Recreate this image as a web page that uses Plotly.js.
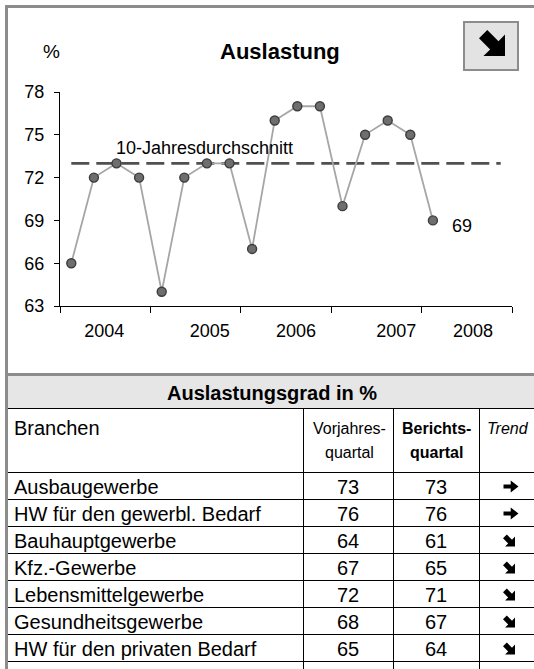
<!DOCTYPE html>
<html>
<head>
<meta charset="utf-8">
<script src="https://cdn.plot.ly/plotly-3.0.1.min.js"></script>
<style>html,body{margin:0;padding:0;background:#fff;}#chart{width:534px;height:669px;}</style>
</head>
<body>
<div id="chart"></div>
<script>
// ---- data ----
const quarters = ["2004 Q1","2004 Q2","2004 Q3","2004 Q4","2005 Q1","2005 Q2","2005 Q3","2005 Q4","2006 Q1","2006 Q2","2006 Q3","2006 Q4","2007 Q1","2007 Q2","2007 Q3","2007 Q4","2008 Q1"];
const auslastung = [66,72,73,72,64,72,73,73,67,76,77,77,70,75,76,75,69];
const avgValues = [73,73,73,73,73,73,73,73,73,73,73,73,73,73,73,73,73,73,73,73];
const yearLabels = ["2004","2005","2006","2007","2008"];
const yTicks = [63,66,69,72,75,78];
const overallTrend = "↘";

const branchen = ["Ausbaugewerbe","HW für den gewerbl. Bedarf","Bauhauptgewerbe","Kfz.-Gewerbe","Lebensmittelgewerbe","Gesundheitsgewerbe","HW für den privaten Bedarf"];
const vorjahr = [73,76,64,67,72,68,65];
const bericht = [73,76,61,65,71,67,64];
const trend = ["→","→","↘","↘","↘","↘","↘"];

// ---- layout helpers (pixel -> paper) ----
const W = 534, H = 669;
const PX = x => x / W;
const PY = y => 1 - y / H;
const FONT = "Liberation Sans, Arial, sans-serif";
const plotL = 60, plotR = 512, plotT = 92, plotB = 306;
const yearPos = [1.96, 6.63, 10.44, 14.88, 18.27];
const catX = auslastung.map((v, i) => i + 0.5);
const avgX = avgValues.map((v, i) => i + 0.5);

const traces = [
  {
    x: avgX, y: avgValues, type: "scatter", mode: "lines",
    line: {color: "#505050", width: 2.6, dash: "18px,7px"},
    hoverinfo: "skip", showlegend: false
  },
  {
    x: catX, y: auslastung, type: "scatter", mode: "lines+markers",
    text: quarters,
    line: {color: "#a6a6a6", width: 1.8},
    marker: {size: 9, color: "#6e6e6e", line: {color: "#3c3c3c", width: 1.4}},
    showlegend: false
  }
];

const shapes = [];
function rect(x0, y0, x1, y1, fill, lineColor, lw) {
  shapes.push({type: "rect", xref: "paper", yref: "paper",
    x0: PX(x0), x1: PX(x1), y0: PY(y0), y1: PY(y1),
    fillcolor: fill, line: {color: lineColor || fill, width: lw || 0}, layer: "above"});
}
function hline(y, x0, x1, color, w) {
  shapes.push({type: "line", xref: "paper", yref: "paper",
    x0: PX(x0), x1: PX(x1), y0: PY(y), y1: PY(y), line: {color: color, width: w}, layer: "above"});
}
function vline(x, y0, y1, color, w) {
  shapes.push({type: "line", xref: "paper", yref: "paper",
    x0: PX(x), x1: PX(x), y0: PY(y0), y1: PY(y1), line: {color: color, width: w}, layer: "above"});
}
// heavy arrow icons as filled polygons (unit box, v downward)
const SE_POLY = [[0.32,0.0],[0.75,0.43],[1,0.17],[1,1],[0.17,1],[0.43,0.75],[0,0.32]];
const E_POLY = [[0,0.33],[0.48,0.33],[0.48,0],[1,0.5],[0.48,1],[0.48,0.67],[0,0.67]];
function arrow(sym, cx, cy, w, h) {
  const poly = sym === "→" ? E_POLY : SE_POLY;
  const d = poly.map((p, k) => (k ? "L" : "M") + PX(cx - w / 2 + p[0] * w).toFixed(5) + "," + PY(cy - h / 2 + p[1] * h).toFixed(5)).join(" ") + " Z";
  shapes.push({type: "path", xref: "paper", yref: "paper", path: d, fillcolor: "#000", line: {width: 0}, layer: "above"});
}

// frame
rect(5, 5, 534, 8, "#8c8c8c");
rect(5, 5, 8, 669, "#8c8c8c");
rect(5, 373, 534, 376, "#8c8c8c");
// button
rect(464, 22, 518, 70, "#e3e3e3", "#8c8c8c", 2);
arrow(overallTrend, 492, 43, 26, 26);
// table
rect(8, 376, 534, 408, "#e6e6e6");
hline(408.5, 8, 534, "#000", 1);
const rowTop = 472, rowH = 27;
hline(rowTop + 0.5, 8, 534, "#000", 1);
for (let i = 1; i <= branchen.length; i++) hline(rowTop + rowH * i + 0.5, 8, 534, "#000", 1);
[303.5, 393.5, 479.5].forEach(x => vline(x, 409, 669, "#000", 1));

const ann = [];
function txt(text, x, y, size, opts) {
  ann.push(Object.assign({text: text, xref: "paper", yref: "paper", x: PX(x), y: PY(y),
    showarrow: false, xanchor: "center", yanchor: "middle",
    font: {family: FONT, size: size, color: "#000"}}, opts || {}));
}
txt("%", 51, 52, 19);
txt("<b>Auslastung</b>", 280, 52, 22);
txt("10-Jahresdurchschnitt", 204, 148, 18);
// last value label
ann.push({text: String(auslastung[auslastung.length - 1]), x: catX[catX.length - 1], y: auslastung[auslastung.length - 1],
  xref: "x", yref: "y", showarrow: false, xanchor: "center", yanchor: "middle", xshift: 29, yshift: -6,
  font: {family: FONT, size: 18, color: "#000"}});

// table text
txt("<b>Auslastungsgrad in %</b>", 272, 393, 20);
txt("Branchen", 12, 428, 20, {xanchor: "left"});
txt("Vorjahres-", 349, 428, 16);
txt("quartal", 349, 453, 16);
txt("<b>Berichts-</b>", 436, 428, 16);
txt("<b>quartal</b>", 436, 453, 16);
txt("<i>Trend</i>", 508, 428, 16);
branchen.forEach((b, i) => {
  const cy = rowTop + rowH * i + rowH / 2 + 1;
  txt(b, 12, cy, 20, {xanchor: "left"});
  txt(String(vorjahr[i]), 348, cy, 20);
  txt(String(bericht[i]), 436, cy, 20);
  if (trend[i] === "→") arrow(trend[i], 511, cy, 15, 12);
  else arrow(trend[i], 509, cy, 12, 12);
});

const layout = {
  width: W, height: H,
  margin: {l: 0, r: 0, t: 0, b: 0, pad: 0},
  paper_bgcolor: "#fff", plot_bgcolor: "#fff",
  font: {family: FONT, size: 18, color: "#000"},
  showlegend: false,
  xaxis: {
    domain: [PX(plotL), PX(plotR)], range: [0, 20], anchor: "y",
    tickvals: [0, 4, 8, 12, 16, 20], ticks: "outside", ticklen: 6, tickcolor: "#000", tickwidth: 1,
    showticklabels: false, showline: true, linecolor: "#000", linewidth: 1,
    showgrid: false, zeroline: false, fixedrange: true
  },
  xaxis2: {
    domain: [PX(plotL), PX(plotR)], range: [0, 20], anchor: "y", overlaying: "x",
    tickvals: yearPos, ticktext: yearLabels, ticks: "", showline: false,
    showgrid: false, zeroline: false, ticklabelstandoff: 12,
    tickfont: {family: FONT, size: 18, color: "#000"}, fixedrange: true
  },
  yaxis: {
    domain: [PY(plotB), PY(plotT)], range: [63, 78], anchor: "x",
    tickvals: yTicks, ticks: "outside", ticklen: 5, tickcolor: "#000", tickwidth: 1,
    showline: true, linecolor: "#000", linewidth: 1, showgrid: false, zeroline: false,
    tickfont: {family: FONT, size: 18, color: "#000"}, ticklabelstandoff: 6, fixedrange: true
  },
  shapes: shapes,
  annotations: ann
};

// invisible trace to activate xaxis2
traces.push({x: [0], y: [63], xaxis: "x2", yaxis: "y", mode: "markers", marker: {opacity: 0}, hoverinfo: "skip", showlegend: false});

Plotly.newPlot("chart", traces, layout, {staticPlot: true, displayModeBar: false});
</script>
</body>
</html>
